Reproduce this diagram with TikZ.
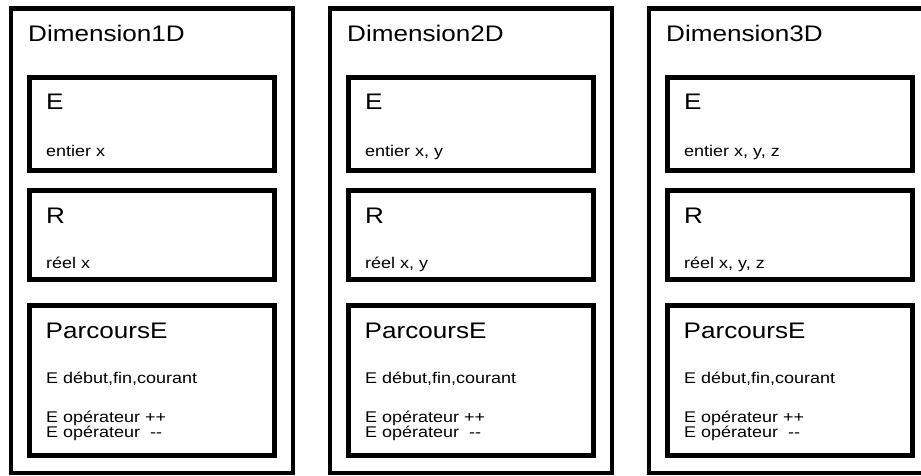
\documentclass[tikz,border=0pt]{standalone}
\usepackage{fontspec}
\setmainfont{Liberation Sans}[FakeStretch=1.16]
\newcommand\dimtitle{\fontsize{22.5}{25}\selectfont}
\newcommand\dimbody{\fontsize{15.5}{18}\selectfont}
\tikzset{
  outerbox/.style={draw=black, line width=4.6pt, minimum width=282pt, minimum height=464.5pt, inner sep=0pt},
  innerbox/.style={draw=black, line width=4.8pt, minimum width=245pt, inner sep=0pt},
  bigtext/.style={anchor=base west, inner sep=0pt, font=\dimtitle},
  smalltext/.style={anchor=base west, inner sep=0pt, font=\dimbody},
}
\begin{document}
\begin{tikzpicture}[x=1pt, y=-1pt]
\useasboundingbox (0,0) rectangle (921,475);
\clip (0,0) rectangle (921,475);
\fill[white] (0,0) rectangle (921,475);
\foreach \i/\dx/\ev in {1/0/{x}, 2/319/{x, y}, 3/638/{x, y, z}} {
  \begin{scope}[xshift=\dx pt]
    \node[outerbox] (outer\i) at (152,240.75) {};
    \node[innerbox, minimum height=93pt] (ebox\i) at (152,124) {};
    \node[innerbox, minimum height=89pt] (rbox\i) at (152,235) {};
    \node[innerbox, minimum height=150pt] (pbox\i) at (152,380.5) {};
    \node[bigtext] (dimname\i) at (28,41.5) {Dimension\i D};
    \node[bigtext] (etitle\i) at (46,109) {E};
    \node[smalltext] (etext\i) at (46,156) {entier \ev};
    \node[bigtext] (rtitle\i) at (46,223.5) {R};
    \node[smalltext] (rtext\i) at (46,268.5) {réel \ev};
    \node[bigtext] (ptitle\i) at (45.5,338) {ParcoursE};
    \node[smalltext] (pvars\i) at (46,383) {E début,fin,courant};
    \node[smalltext] (pinc\i) at (46,422.5) {E opérateur ++};
    \node[smalltext] (pdec\i) at (46,437.5) {E opérateur\ \ -{}-};
  \end{scope}
}
\end{tikzpicture}
\end{document}
